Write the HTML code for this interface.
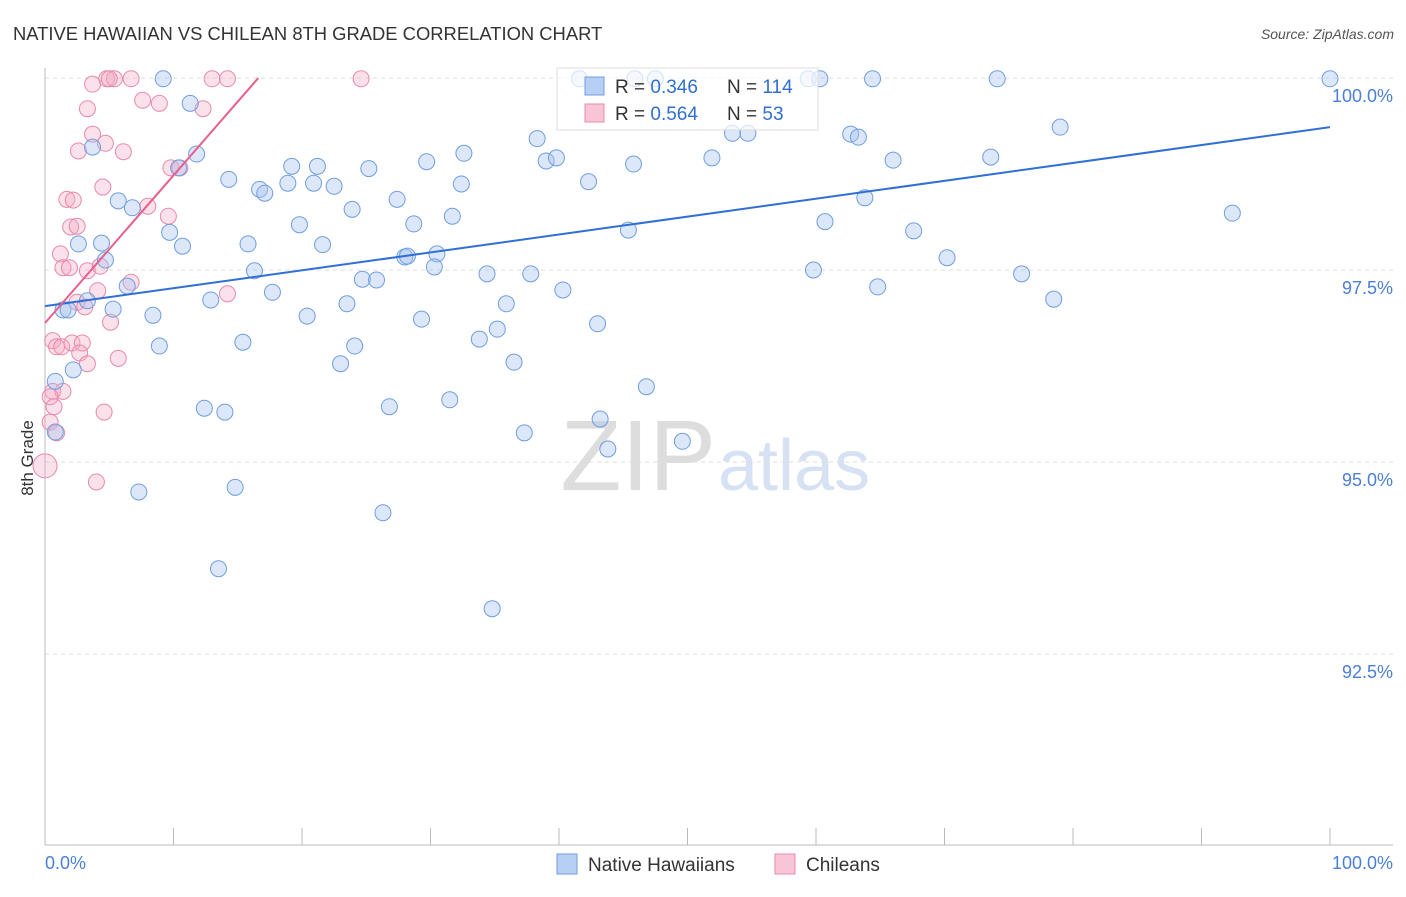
<!DOCTYPE html>
<html><head><meta charset="utf-8"><style>
body{margin:0;background:#fff;font-family:"Liberation Sans",sans-serif}
svg text{font-family:"Liberation Sans",sans-serif}
</style></head><body>
<svg id="c" width="1406" height="892" xmlns="http://www.w3.org/2000/svg">
<text x="13" y="40" font-size="18.4" fill="#333">NATIVE HAWAIIAN VS CHILEAN 8TH GRADE CORRELATION CHART</text>
<text x="1394" y="39" font-size="14" fill="#555" font-style="italic" text-anchor="end">Source: ZipAtlas.com</text>
<text x="33" y="458" font-size="17" fill="#333" transform="rotate(-90 33 458)" text-anchor="middle">8th Grade</text>
<text x="716" y="490" font-size="100" fill="#ddd" text-anchor="end" font-family="Liberation Serif">ZIP</text>
<text x="718" y="490" font-size="72" fill="#d6e2f4">atlas</text>
<g id="grid"></g><g id="pts"></g><g id="lines"></g>
<g>
<rect x="557" y="68" width="261" height="62" fill="rgba(255,255,255,0.7)" stroke="#ddd"/>
<rect x="585" y="77" width="19" height="18" fill="#b8cff4" stroke="#6f9ee0"/>
<rect x="585" y="104" width="19" height="18" fill="#f8c5d6" stroke="#e88aab"/>
<text x="615" y="93" font-size="19" fill="#333">R = <tspan fill="#2f6fd0">0.346</tspan></text>
<text x="727" y="93" font-size="19" fill="#333">N = <tspan fill="#2f6fd0">114</tspan></text>
<text x="615" y="120" font-size="19" fill="#333">R = <tspan fill="#2f6fd0">0.564</tspan></text>
<text x="727" y="120" font-size="19" fill="#333">N = <tspan fill="#2f6fd0"> 53</tspan></text>
</g>
<g>
<rect x="557" y="854" width="20" height="20" fill="#b8cff4" stroke="#6f9ee0"/>
<text x="588" y="871" font-size="19" fill="#333">Native Hawaiians</text>
<rect x="775" y="854" width="20" height="20" fill="#f8c5d6" stroke="#e88aab"/>
<text x="806" y="871" font-size="19" fill="#333">Chileans</text>
</g>
</svg>
<script>
const blueX=[9.2,41.6,45.9,47.5,59.4,60.3,64.4,74.1,100,11.3,3.7,11.8,10.4,14.3,16.7,17.1,18.9,19.2,21.2,20.9,22.5,25.2,23.9,27.4,28.7,29.7,31.7,32.4,32.6,38.3,39.0,39.8,42.3,45.8,51.9,53.5,54.7,62.7,63.3,66.0,73.6,79.0,92.4,63.8,60.7,67.6,45.4,70.2,76.0,78.5,59.8,64.8,5.7,6.8,9.7,10.7,4.4,2.6,4.7,15.8,16.3,19.8,21.6,28.0,28.2,30.5,30.3,34.4,37.8,40.3,6.4,5.3,3.3,1.4,1.8,8.4,12.9,17.7,20.4,23.5,24.7,25.8,29.3,35.2,35.9,43.0,33.8,36.5,8.9,15.4,23.0,24.1,2.2,0.8,46.8,12.4,14.0,26.8,31.5,43.2,43.8,37.3,49.6,0.8,7.3,14.8,26.3,13.5,34.8];
const blueY=[99.99,99.99,99.99,99.99,99.99,99.99,99.99,99.99,99.99,99.67,99.10,99.01,98.83,98.68,98.55,98.50,98.63,98.85,98.85,98.63,98.59,98.82,98.29,98.42,98.10,98.91,98.20,98.62,99.02,99.21,98.92,98.96,98.65,98.88,98.96,99.28,99.28,99.27,99.23,98.93,98.97,99.36,98.24,98.44,98.13,98.01,98.02,97.66,97.45,97.12,97.50,97.28,98.40,98.31,97.99,97.81,97.85,97.84,97.63,97.84,97.49,98.09,97.83,97.67,97.68,97.71,97.54,97.45,97.45,97.24,97.29,96.99,97.10,96.98,96.98,96.91,97.11,97.21,96.90,97.06,97.38,97.37,96.86,96.73,97.06,96.80,96.60,96.30,96.51,96.56,96.28,96.51,96.20,96.05,95.98,95.70,95.65,95.72,95.81,95.56,95.17,95.38,95.27,95.39,94.61,94.67,94.34,93.61,93.09];
const pinkX=[4.8,5.4,6.7,13.0,14.2,24.6,3.7,7.6,8.9,3.3,12.3,3.7,4.7,2.6,6.1,9.8,10.5,4.5,8.0,1.7,2.2,9.6,2.0,2.5,1.2,1.4,1.9,3.3,4.3,6.7,14.2,4.1,2.5,3.1,5.1,0.6,0.9,1.3,2.1,2.9,2.7,3.3,5.7,0.6,1.4,0.4,0.7,4.6,0.4,0.9,0,4.0,5.0];
const pinkY=[99.99,99.99,99.99,99.99,99.99,99.99,99.92,99.71,99.67,99.60,99.60,99.27,99.15,99.05,99.04,98.83,98.83,98.58,98.33,98.42,98.41,98.20,98.06,98.07,97.71,97.53,97.53,97.49,97.55,97.34,97.19,97.23,97.08,97.02,96.82,96.58,96.50,96.50,96.55,96.55,96.42,96.28,96.35,95.92,95.92,95.85,95.72,95.65,95.52,95.38,94.95,94.74,99.99];
const yTicks=[100,97.5,95,92.5];
const yTickLabels=["100.0%","97.5%","95.0%","92.5%"];
const blueLine=[97.03,99.36];
const pinkLine=[[0,96.81],[16.6,100]];
const sx=v=>45+v*12.85, sy=v=>78+(100-v)*76.8;
const NS="http://www.w3.org/2000/svg";
function mk(tag,attrs,parent){const e=document.createElementNS(NS,tag);for(const k in attrs)e.setAttribute(k,attrs[k]);document.getElementById(parent).appendChild(e);return e;}
yTicks.forEach((t,i)=>{
 const l=mk('line',{x1:45,x2:1393,y1:sy(t),y2:sy(t),stroke:'#ddd','stroke-dasharray':'4,4'},'grid');
 
 
 const tx=mk('text',{x:1393,y:sy(t)+24,'font-size':18,fill:'#4a7fd6','text-anchor':'end'},'grid');tx.textContent=yTickLabels[i];
 
 
});
let ax=mk('line',{x1:45,x2:45,y1:68,y2:845,stroke:'#bbb'},'grid');


ax=mk('line',{x1:45,x2:1393,y1:845,y2:845,stroke:'#bbb'},'grid');


for(let i=0;i<=10;i++){const t=mk('line',{x1:sx(i*10),x2:sx(i*10),y1:828,y2:845,stroke:'#bbb'},'grid');
 
 }
let xl=mk('text',{x:45,y:869,'font-size':18,fill:'#4a7fd6'},'grid');xl.textContent='0.0%';


xl=mk('text',{x:1393,y:869,'font-size':18,fill:'#4a7fd6','text-anchor':'end'},'grid');xl.textContent='100.0%';


pinkX.forEach((x,i)=>{const c=mk('circle',{cx:sx(x),cy:sy(pinkY[i]),r:i==50?12:8,fill:'rgba(244,170,195,0.35)',stroke:'#e88aab','stroke-width':1},'pts');
 
 });
blueX.forEach((x,i)=>{const c=mk('circle',{cx:sx(x),cy:sy(blueY[i]),r:8,fill:'rgba(168,196,240,0.4)',stroke:'#6f9ee0','stroke-width':1},'pts');
 
 });
let tl=mk('line',{x1:sx(0),y1:sy(blueLine[0]),x2:sx(100),y2:sy(blueLine[1]),stroke:'#2f6fd6','stroke-width':2},'lines');


tl=mk('line',{x1:sx(pinkLine[0][0]),y1:sy(pinkLine[0][1]),x2:sx(pinkLine[1][0]),y2:sy(pinkLine[1][1]),stroke:'#e8608a','stroke-width':2},'lines');


</script>
</body></html>
